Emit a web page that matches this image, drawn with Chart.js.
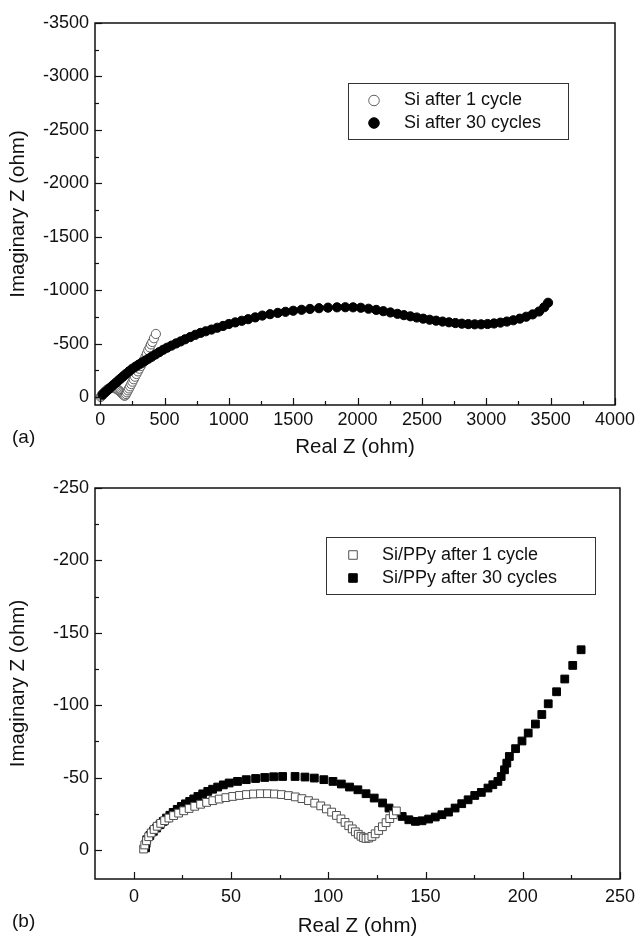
<!DOCTYPE html>
<html><head><meta charset="utf-8">
<script src="https://cdn.jsdelivr.net/npm/chart.js@4.4.1/dist/chart.umd.min.js"></script>
<style>
html,body{margin:0;padding:0;background:#fff;overflow:hidden;width:642px;height:936px;}
.wrap{position:absolute;left:0;width:642px;}
#wa{top:0;height:465px;}
#wb{top:465px;height:476px;}
.tag{position:absolute;left:12px;font:19px "Liberation Sans",Arial,sans-serif;color:#111;line-height:22px;}
</style></head><body>
<div class="wrap" id="wa"><canvas id="ca" width="642" height="465"></canvas></div>
<div class="wrap" id="wb"><canvas id="cb" width="642" height="476"></canvas></div>
<div class="tag" style="top:426px">(a)</div>
<div class="tag" style="top:910px">(b)</div>
<script>
// ---------- data (a) ----------
const siLabels = ['Si after 1 cycle', 'Si after 30 cycles'];
const siOneX = [5,10,16,24,33,43,54,66,79,92,105,118,130,141,151,160,168,176,183,189,195,201,208,216,224,233,242,251,261,271,282,293,304,316,328,340,352,363,374,385,395,405,418,433];
const siOneY = [0,-12,-24,-36,-48,-59,-69,-77,-83,-86,-85,-81,-74,-65,-55,-45,-35,-26,-18,-12,-15,-28,-44,-62,-80,-100,-121,-143,-166,-190,-215,-240,-265,-290,-315,-345,-375,-405,-438,-465,-492,-515,-550,-590];
const siThirtyX = [20,40,60,80,100,120,140,160,180,200,225,250,275,300,325,350,375,400,430,460,490,520,555,590,625,660,700,740,780,820,865,910,955,1000,1050,1100,1150,1205,1260,1320,1380,1440,1500,1565,1630,1700,1770,1840,1905,1965,2025,2085,2145,2200,2255,2310,2360,2410,2460,2510,2560,2610,2660,2710,2760,2810,2860,2910,2960,3010,3060,3110,3160,3210,3260,3310,3360,3410,3450,3480];
const siThirtyY = [-22,-44,-66,-88,-110,-131,-152,-173,-194,-215,-240,-264,-284,-303,-322,-340,-358,-376,-398,-420,-442,-461,-481,-501,-520,-540,-561,-582,-600,-615,-631,-648,-665,-683,-698,-713,-728,-745,-762,-775,-787,-797,-807,-816,-824,-831,-836,-839,-840,-839,-835,-826,-815,-803,-791,-778,-766,-755,-744,-733,-723,-714,-706,-699,-692,-686,-682,-680,-680,-683,-688,-696,-706,-718,-733,-751,-773,-800,-840,-882];
const aXTicks = [0,500,1000,1500,2000,2500,3000,3500,4000];
const aYTicks = [-3500,-3000,-2500,-2000,-1500,-1000,-500,0];

// ---------- data (b) ----------
const ppyLabels = ['Si/PPy after 1 cycle', 'Si/PPy after 30 cycles'];
const ppyOneX = [5,5.6,6.5,7.6,8.9,10.4,12,13.8,15.8,18,20.4,23,25.6,28.4,31.3,34.3,37.4,40.6,43.9,47.3,50.8,54.3,57.9,61.5,65.1,68.7,72.3,75.9,79.5,83,86.4,89.8,93,96.1,99,101.7,104.2,106.5,108.6,110.5,112.3,113.9,115.4,116.8,118.1,119.4,120.8,122.4,124.1,125.9,127.8,129.7,131.6,133.4,135];
const ppyOneY = [-0.7,-3.5,-6.4,-9.2,-11.8,-14.2,-16.4,-18.4,-20.3,-22.1,-23.8,-25.5,-27.1,-28.7,-30.2,-31.6,-32.9,-34.1,-35.2,-36.2,-37,-37.7,-38.3,-38.7,-38.9,-38.9,-38.7,-38.3,-37.6,-36.7,-35.5,-34.1,-32.4,-30.5,-28.4,-26.2,-23.9,-21.5,-19.1,-16.8,-14.6,-12.6,-10.9,-9.5,-8.5,-8,-8.3,-9.4,-11.2,-13.5,-16.1,-18.9,-21.7,-24.4,-27];
const ppyThirtyX = [6,6.3,6.6,8.2,10,11.7,13.4,15.1,16.8,18.5,20.2,22.3,24.4,26.5,28.7,30.8,32.9,35.4,38,40.5,43.1,46,49,53.3,57.8,62.6,67.3,71.9,76.5,82.9,88,92.8,97.7,102.4,106.7,110.9,115.2,119.4,123.6,127.9,131.2,134.6,138,141.4,144.8,148.2,151.6,155,158.4,161.8,165.2,168.6,171.9,175.3,178.7,182.1,184.6,187.2,188.9,190.6,191.8,193.1,196.3,199.6,202.8,206.5,209.8,213.1,217.4,221.6,225.7,230];
const ppyThirtyY = [-1.5,-4.5,-7.1,-10,-12.9,-15.2,-17.5,-19.8,-22.1,-24,-26,-28.1,-30.1,-31.9,-33.6,-35.3,-37,-38.8,-40.5,-42,-43.5,-45,-46.3,-47.4,-48.6,-49.4,-50.1,-50.6,-50.8,-50.8,-50.4,-49.7,-48.6,-47.4,-45.6,-43.5,-41.6,-38.9,-35.9,-32.5,-29,-26,-23.2,-20.9,-19.8,-20.2,-21.4,-22.8,-24.4,-26.2,-29,-32,-34.7,-37.7,-39.8,-42.8,-45.1,-47.4,-50.8,-55.4,-60,-64.6,-70,-75.3,-80.8,-87,-93.6,-101,-109.3,-118.1,-127.5,-138.3];
const bXTicks = [0,50,100,150,200,250];
const bYTicks = [-250,-200,-150,-100,-50,0];

// ---------- helpers ----------
const FONT = '"Liberation Sans", Arial, Helvetica, sans-serif';
const pts = (xs, ys) => xs.map((x, i) => ({x: x, y: ys[i]}));

const framePlugin = {
  id: 'frame',
  afterDatasetsDraw(chart) {
    const {ctx, chartArea: a} = chart;
    ctx.save();
    ctx.strokeStyle = '#111';
    ctx.lineWidth = 1.2;
    const doScale = (scale, horiz) => {
      const vals = scale.ticks.map(t => t.value);
      const step = vals[1] - vals[0];
      const minors = [];
      for (let i = -1; i < vals.length; i++) {
        const m = i < 0 ? vals[0] - step / 2 : vals[i] + step / 2;
        if (m > scale.min && m < scale.max) minors.push(m);
      }
      const draw = (v, len) => {
        const p = Math.round(scale.getPixelForValue(v)) + 0.5;
        ctx.beginPath();
        if (horiz) { ctx.moveTo(p, a.bottom); ctx.lineTo(p, a.bottom - len); }
        else { ctx.moveTo(a.left, p); ctx.lineTo(a.left + len, p); }
        ctx.stroke();
      };
      vals.forEach(v => draw(v, 7));
      minors.forEach(v => draw(v, 4));
    };
    doScale(chart.scales.x, true);
    doScale(chart.scales.y, false);
    ctx.lineWidth = 1.5;
    ctx.strokeRect(a.left, a.top, a.right - a.left, a.bottom - a.top);
    ctx.restore();
  }
};

const boxLegend = {
  id: 'boxLegend',
  afterDraw(chart, args, o) {
    const ctx = chart.ctx;
    ctx.save();
    ctx.lineWidth = 1;
    ctx.strokeStyle = '#333';
    ctx.strokeRect(o.x + 0.5, o.y + 0.5, o.w, o.h);
    chart.data.datasets.forEach((ds, i) => {
      const yy = o.y + o.rows[i];
      const r = ds.pointRadius * o.markerScale;
      ctx.fillStyle = ds.pointBackgroundColor;
      ctx.strokeStyle = ds.pointBorderColor;
      ctx.lineWidth = ds.pointBorderWidth;
      ctx.beginPath();
      if (ds.pointStyle === 'rect') {
        const s = r * Math.SQRT1_2;
        ctx.rect(o.markerX - s, yy - s, 2 * s, 2 * s);
      } else {
        ctx.arc(o.markerX, yy, r, 0, Math.PI * 2);
      }
      ctx.fill();
      ctx.stroke();
      ctx.fillStyle = '#111';
      ctx.font = o.fontSize + 'px ' + FONT;
      ctx.textBaseline = 'middle';
      ctx.textAlign = 'left';
      ctx.fillText(ds.label, o.textX, yy);
    });
    ctx.restore();
  }
};

function axis(cfg) {
  return {
    type: 'linear',
    min: cfg.min, max: cfg.max, reverse: !!cfg.reverse,
    afterBuildTicks: s => { s.ticks = cfg.ticks.map(v => ({value: v})); },
    afterFit: s => { if (cfg.width) s.width = cfg.width; if (cfg.height) s.height = cfg.height; },
    grid: {display: false, drawTicks: false, tickLength: 0},
    border: {display: false},
    ticks: {
      padding: cfg.tickPad, autoSkip: false, maxRotation: 0, includeBounds: false,
      color: '#111', font: {family: FONT, size: 18},
      callback: v => String(v)
    },
    title: {
      display: true, text: cfg.title, color: '#111',
      font: {family: FONT, size: 20.5},
      padding: cfg.titlePad
    }
  };
}

function makeChart(id, o) {
  return new Chart(document.getElementById(id), {
    type: 'scatter',
    data: {datasets: o.datasets},
    options: {
      responsive: false, animation: false, events: [],
      layout: {padding: {left: 0, top: o.padTop, right: o.padRight, bottom: 0}},
      plugins: {legend: {display: false}, tooltip: {enabled: false}, boxLegend: o.legend},
      scales: {
        x: axis({min: o.xMin, max: o.xMax, ticks: o.xTicks, height: o.xHeight, tickPad: o.xTickPad,
                 title: 'Real Z (ohm)', titlePad: {top: 0, bottom: o.xTitlePad}}),
        y: axis({min: o.yMin, max: o.yMax, reverse: true, ticks: o.yTicks, width: 95, tickPad: 6,
                 title: 'Imaginary Z (ohm)', titlePad: {top: 6, bottom: 0}})
      }
    },
    plugins: [framePlugin, boxLegend]
  });
}

makeChart('ca', {
  datasets: [
    {label: siLabels[0], data: pts(siOneX, siOneY), order: 1, showLine: false,
     pointStyle: 'circle', pointRadius: 4.6, pointBorderWidth: 1,
     pointBackgroundColor: '#ffffff', pointBorderColor: '#606060'},
    {label: siLabels[1], data: pts(siThirtyX, siThirtyY), order: 0, showLine: false,
     pointStyle: 'circle', pointRadius: 4.6, pointBorderWidth: 1,
     pointBackgroundColor: '#000000', pointBorderColor: '#000000'}
  ],
  xMin: -40, xMax: 4000, yMin: -3500, yMax: 75,
  xTicks: aXTicks, yTicks: aYTicks,
  padTop: 23, padRight: 27, xHeight: 60, xTickPad: 4, xTitlePad: 5,
  legend: {x: 348, y: 83, w: 220, h: 56, rows: [17.5, 40], markerX: 374, textX: 404, fontSize: 18, markerScale: 1.15}
});

makeChart('cb', {
  datasets: [
    {label: ppyLabels[0], data: pts(ppyOneX, ppyOneY), showLine: false,
     pointStyle: 'rect', pointRadius: 5.5, pointBorderWidth: 1,
     pointBackgroundColor: '#ffffff', pointBorderColor: '#505050'},
    {label: ppyLabels[1], data: pts(ppyThirtyX, ppyThirtyY), showLine: false,
     pointStyle: 'rect', pointRadius: 5.5, pointBorderWidth: 1,
     pointBackgroundColor: '#000000', pointBorderColor: '#000000'}
  ],
  xMin: -20, xMax: 250, yMin: -250, yMax: 20,
  xTicks: bXTicks, yTicks: bYTicks,
  padTop: 23, padRight: 16, xHeight: 62, xTickPad: 7, xTitlePad: 2,
  legend: {x: 326, y: 72, w: 269, h: 57, rows: [18, 41], markerX: 353, textX: 382, fontSize: 18, markerScale: 1.1}
});
</script>
</body></html>
